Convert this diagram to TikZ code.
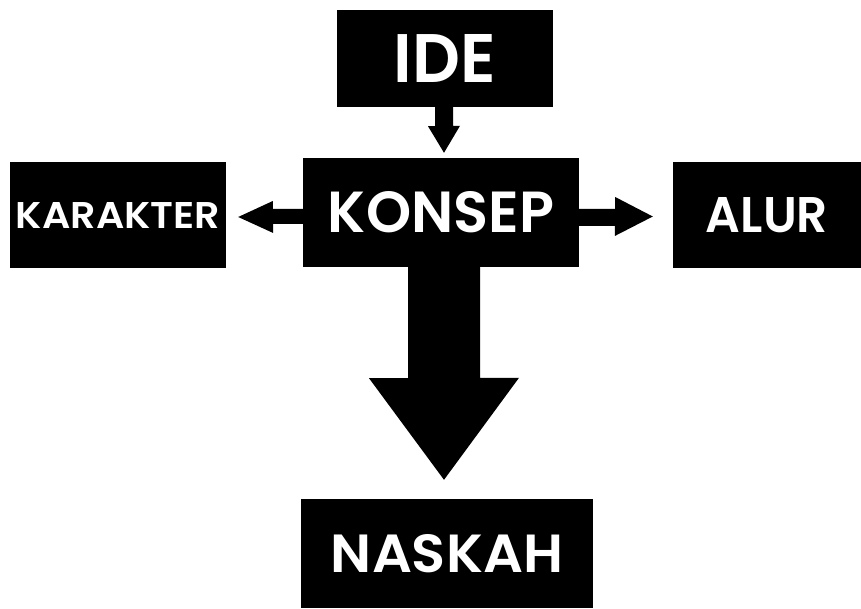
\documentclass[tikz,border=0pt]{standalone}
\usepackage{fontspec}
\newfontfamily\pop{Poppins SemiBold}
\usetikzlibrary{calc}
\tikzset{
  blk/.style={fill=black, text=white, inner sep=0pt, minimum width=#1},
  arr/.style={fill=black},
}
\newcommand{\lbl}[3]{\resizebox{#1pt}{#2pt}{\pop #3}}
\begin{document}
\begin{tikzpicture}[x=1pt,y=-1pt]
\useasboundingbox[fill=white] (0,0) rectangle (861,609);
\node[blk=216pt, minimum height=97pt]  (ide)      at (445,58.5)  {\lbl{102}{48}{IDE}};
\node[blk=276pt, minimum height=109pt] (konsep)   at (441,212.5) {\lbl{226}{41}{KONSEP}};
\node[blk=216pt, minimum height=106pt] (karakter) at (118,215)   {\lbl{204}{26}{KARAKTER}};
\node[blk=188pt, minimum height=106pt] (alur)     at (767,215)   {\lbl{122}{35}{ALUR}};
\node[blk=292pt, minimum height=109pt] (naskah)   at (447,553.5) {\lbl{232}{38}{NASKAH}};
% tips
\coordinate (tipA) at ([xshift=3pt,yshift=5pt]konsep.north);
\coordinate (tipB) at ([xshift=-3pt,yshift=19pt]naskah.north);
\coordinate (tipL) at ([xshift=12pt,yshift=-2pt]karakter.east);
\coordinate (tipR) at ([xshift=-20pt,yshift=-1.5pt]alur.west);
% IDE -> KONSEP
\fill[arr] ([xshift=-10pt]ide.south) -- ++(0,19) -- ++(-7,0) -- (tipA) -- ++(16,-27) -- ++(-7,0) -- ([xshift=8pt]ide.south) -- cycle;
% KONSEP -> NASKAH
\fill[arr] ([xshift=-33pt]konsep.south) -- ++(0,111) -- ++(-39,0) -- (tipB) -- ++(75,-102) -- ++(-39,0) -- ([xshift=39pt]konsep.south) -- cycle;
% KONSEP -> KARAKTER
\fill[arr] ([yshift=3.5pt]konsep.west) -- ++(-30,0) -- ++(0,-8) -- (tipL) -- ++(35,16) -- ++(0,-9) -- ([yshift=-11.5pt]konsep.west) -- cycle;
% KONSEP -> ALUR
\fill[arr] ([yshift=3.5pt]konsep.east) -- ++(36,0) -- ++(0,-12) -- (tipR) -- ++(-38,19.5) -- ++(0,-10) -- ([yshift=-13.5pt]konsep.east) -- cycle;
\end{tikzpicture}
\end{document}
